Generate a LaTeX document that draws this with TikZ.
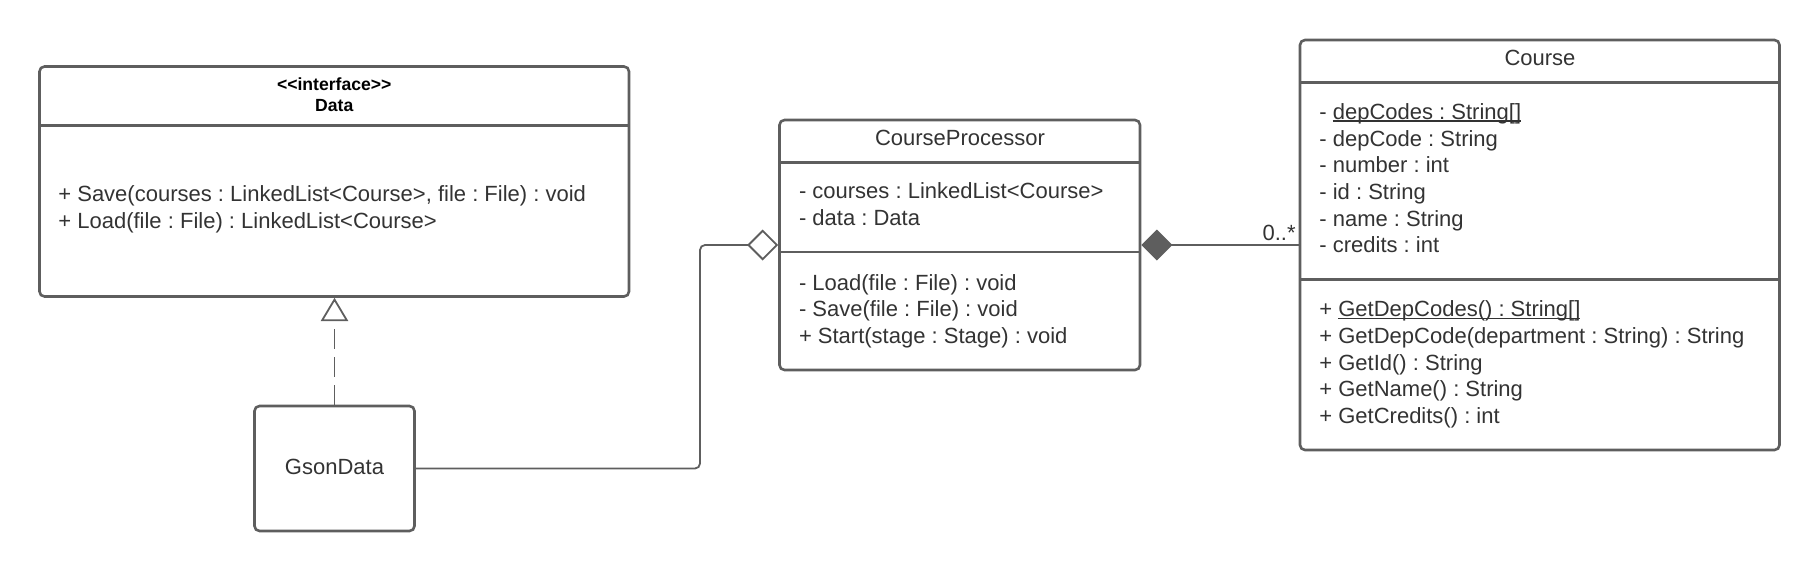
\documentclass[tikz,border=0pt]{standalone}
\usepackage{fontspec}
\newfontfamily\umlfont{Liberation Sans}
\usetikzlibrary{arrows.meta,fit}
\definecolor{umlline}{HTML}{5E5E5E}
\definecolor{umltext}{HTML}{333333}
\newcommand\ulinetext[1]{\setbox0=\hbox{#1}\rlap{\rule[-1.1pt]{\wd0}{0.55pt}}\box0}
\frenchspacing
\begin{document}
\begin{tikzpicture}[x=0.5pt,y=-0.5pt,
  classbox/.style={draw=umlline, line width=1.3pt, rounded corners=2.5pt, fill=white, inner sep=0pt},
  divider/.style={draw=umlline, line width=1.3pt},
  txt/.style={text=umltext, font=\umlfont\frenchspacing\fontsize{11}{13}\selectfont, inner sep=0pt, anchor=base west},
  ttl/.style={txt, anchor=base},
  hdr/.style={text=black, font=\umlfont\bfseries\fontsize{8.8}{10}\selectfont, inner sep=0pt, anchor=base},
  conn/.style={draw=umlline, line width=0.9pt},
]
\useasboundingbox (0,0) rectangle (1820,573);

% Data interface
\node[classbox, fit={(39.5,66.5) (629,296.5)}] (data) {};
\draw[divider] (39.5,125.3) -- (629,125.3);
\node[hdr] (dstereo) at (334.25,90) {<<interface>>};
\node[hdr] (dname) at (334.25,111) {Data};
\node[txt] (dm1) at (58,201.3) {+ Save(courses : LinkedList<Course>, file : File) : void};
\node[txt] (dm2) at (58,228) {+ Load(file : File) : LinkedList<Course>};

% GsonData
\node[classbox, fit={(254.5,406) (414.5,531)}] (gson) {};
\node[ttl] (gsonlbl) at (334.5,474) {GsonData};

% CourseProcessor
\node[classbox, fit={(779.5,120) (1140,370)}] (cp) {};
\draw[divider] (779.5,162.5) -- (1140,162.5);
\draw[divider] (779.5,252) -- (1140,252);
\node[ttl] (cptitle) at (960,145) {CourseProcessor};
\node[txt] (cpa1) at (798.6,198.3) {- courses : LinkedList<Course>};
\node[txt] (cpa2) at (798.6,225) {- data : Data};
\node[txt] (cpm1) at (798.6,290) {- Load(file : File) : void};
\node[txt] (cpm2) at (798.6,316.7) {- Save(file : File) : void};
\node[txt] (cpm3) at (798.6,343.3) {+ Start(stage : Stage) : void};

% Course
\node[classbox, fit={(1300,40) (1779.5,450)}] (course) {};
\draw[divider] (1300,82.3) -- (1779.5,82.3);
\draw[divider] (1300,279.5) -- (1779.5,279.5);
\node[ttl] (ctitle) at (1540,65) {Course};
\node[txt] (ca1) at (1319,119.3) {- \ulinetext{depCodes : String[]}};
\node[txt] (ca2) at (1319,146) {- depCode : String};
\node[txt] (ca3) at (1319,172.7) {- number : int};
\node[txt] (ca4) at (1319,199.3) {- id : String};
\node[txt] (ca5) at (1319,226) {- name : String};
\node[txt] (ca6) at (1319,252.6) {- credits : int};
\node[txt] (cm1) at (1319,316.7) {+ \ulinetext{GetDepCodes() : String[]}};
\node[txt] (cm2) at (1319,343.3) {+ GetDepCode(department : String) : String};
\node[txt] (cm3) at (1319,370) {+ GetId() : String};
\node[txt] (cm4) at (1319,396.6) {+ GetName() : String};
\node[txt] (cm5) at (1319,423.3) {+ GetCredits() : int};

% Connectors
\draw[conn, dash pattern=on 10pt off 4pt, -{Triangle[open, length=11.7pt, width=13.7pt]}]
  (gson.north) -- (gson.north |- data.south);
\coordinate (bendx) at (700,469);
\draw[conn, rounded corners=2.5pt, -{Diamond[open, length=15.5pt, width=15.5pt]}]
  (gson.east) -| (bendx |- cp.west) -- (cp.west);
\draw[conn, -{Diamond[length=15.5pt, width=15.5pt]}] (course.west) -- (cp.east);
\node[txt, anchor=base east] (mult) at (1296,240) {0..*};
\end{tikzpicture}
\end{document}
